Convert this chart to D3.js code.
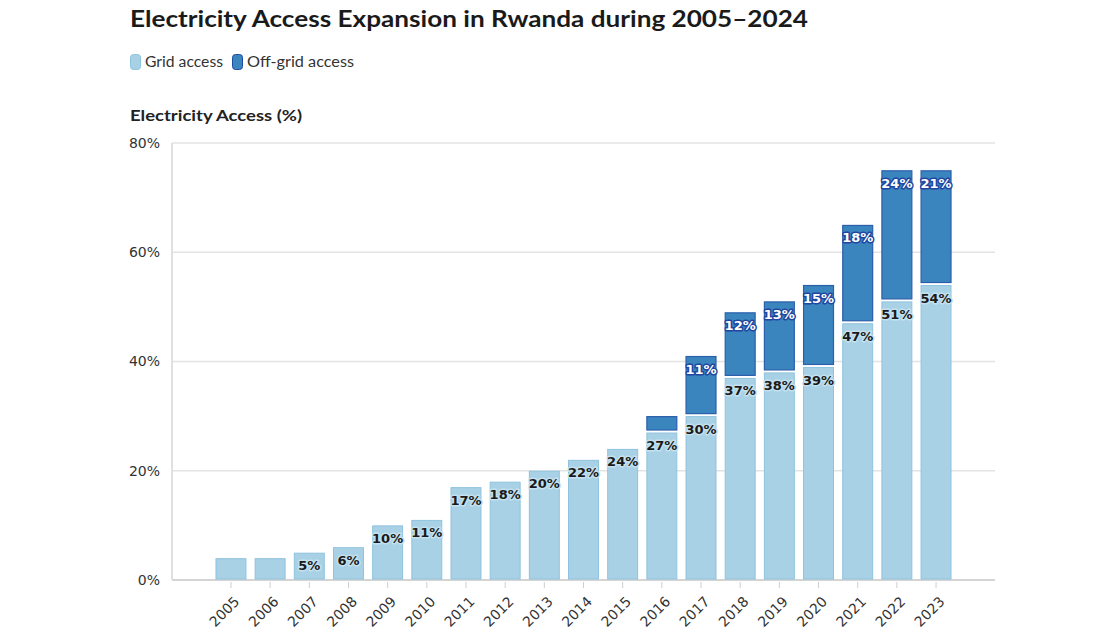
<!DOCTYPE html>
<html><head><meta charset="utf-8">
<script src="https://cdn.jsdelivr.net/npm/d3@7"></script>
<style>body{margin:0;background:#fff;} svg{display:block;}</style>
</head><body>
<svg id="c" width="1120" height="630"></svg>
<script>
const years = ["2005","2006","2007","2008","2009","2010","2011","2012","2013","2014","2015","2016","2017","2018","2019","2020","2021","2022","2023"];
const gridAccess = [4,4,5,6,10,11,17,18,20,22,24,27,30,37,38,39,47,51,54];
const offGridAccess = [0,0,0,0,0,0,0,0,0,0,0,3,11,12,13,15,18,24,21];
const yTicks = [0,20,40,60,80];
const seriesNames = ["Grid access","Off-grid access"];

const svg = d3.select("#c");
const L=172, R=995, T=143, B=580;
const x = d3.scaleBand().domain(years).range([L,R]).paddingInner(0.21).paddingOuter(1.11);
const y = d3.scaleLinear().domain([0,80]).range([B,T]);

const lightFill="#a9d1e6", lightStroke="#8ec3de", darkFill="#3a85be", darkStroke="#2b5fac";

// title
svg.append("text").attr("x",130).attr("y",27).attr("font-family","Lato").attr("font-weight",700)
  .attr("font-size",23).attr("fill","#1a1a1a").attr("textLength",678).attr("lengthAdjust","spacingAndGlyphs")
  .text("Electricity Access Expansion in Rwanda during 2005–2024");

// legend
const leg = [{n:seriesNames[0],f:lightFill,s:lightStroke,x:130,w:78},{n:seriesNames[1],f:darkFill,s:"#1f4aa0",x:232,w:107}];
leg.forEach(l=>{
  svg.append("rect").attr("x",l.x+0.5).attr("y",54.5).attr("width",10).attr("height",15).attr("rx",3)
    .attr("fill",l.f).attr("stroke",l.s).attr("stroke-width",1);
  svg.append("text").attr("x",l.x+15).attr("y",67).attr("font-family","Lato").attr("font-size",15.5)
    .attr("fill","#333").attr("textLength",l.w).attr("lengthAdjust","spacingAndGlyphs").text(l.n);
});

// axis title
svg.append("text").attr("x",130).attr("y",121).attr("font-family","Lato").attr("font-weight",700)
  .attr("font-size",16).attr("fill","#222").attr("textLength",172).attr("lengthAdjust","spacingAndGlyphs")
  .text("Electricity Access (%)");

// gridlines
svg.append("g").selectAll("line").data(yTicks).join("line")
  .attr("x1",L).attr("x2",R).attr("y1",d=>y(d)).attr("y2",d=>y(d))
  .attr("stroke",d=>d===0?"#d4d4d4":"#e3e3e3").attr("stroke-width",d=>d===0?2:1.5);
svg.append("line").attr("x1",L).attr("x2",L).attr("y1",T).attr("y2",B).attr("stroke","#e0e0e0").attr("stroke-width",2);

// y tick labels
svg.append("g").selectAll("text").data(yTicks).join("text")
  .attr("x",160).attr("y",d=>y(d)).attr("dy","0.35em").attr("text-anchor","end")
  .attr("font-family","DejaVu Sans").attr("font-size",14).attr("fill","#333").text(d=>d+"%");

// x ticks
const xa = svg.append("g");
xa.selectAll("line").data(years).join("line")
  .attr("x1",d=>x(d)+x.bandwidth()/2).attr("x2",d=>x(d)+x.bandwidth()/2)
  .attr("y1",582).attr("y2",588).attr("stroke","#cfcfcf").attr("stroke-width",1);
xa.selectAll("text").data(years).join("text")
  .attr("transform",d=>`translate(${x(d)+x.bandwidth()/2+6},${599}) rotate(-45)`)
  .attr("text-anchor","end").attr("dy","0.35em")
  .attr("font-family","DejaVu Sans").attr("font-size",14).attr("fill","#333").text(d=>d);

const data = years.map((yr,i)=>({yr,g:gridAccess[i],o:offGridAccess[i]}));
const bw = x.bandwidth();

// grid bars
svg.append("g").selectAll("rect").data(data).join("rect")
  .attr("x",d=>x(d.yr)+0.5).attr("width",bw-1)
  .attr("y",d=>y(d.g)+0.5).attr("height",d=>y(0)-y(d.g)-1.5)
  .attr("fill",lightFill).attr("stroke",lightStroke).attr("stroke-width",1);
// off-grid bars
svg.append("g").selectAll("rect").data(data.filter(d=>d.o>0)).join("rect")
  .attr("x",d=>x(d.yr)+0.5).attr("width",bw-1)
  .attr("y",d=>y(d.g+d.o)+0.5).attr("height",d=>y(d.g)-y(d.g+d.o)-3)
  .attr("fill",darkFill).attr("stroke",darkStroke).attr("stroke-width",1.2);

// labels
svg.append("g").selectAll("text").data(data.filter(d=>d.g>=5)).join("text")
  .attr("x",d=>x(d.yr)+bw/2).attr("y",d=>y(d.g)+13).attr("dy","0.35em").attr("text-anchor","middle")
  .attr("font-family","DejaVu Sans").attr("font-weight",700).attr("font-size",13)
  .attr("fill","#1a1a1a").attr("stroke","#c4e1ef").attr("stroke-width",3).attr("paint-order","stroke")
  .attr("stroke-linejoin","round").text(d=>d.g+"%");
svg.append("g").selectAll("text").data(data.filter(d=>d.o>=5)).join("text")
  .attr("x",d=>x(d.yr)+bw/2).attr("y",d=>y(d.g+d.o)+13).attr("dy","0.35em").attr("text-anchor","middle")
  .attr("font-family","DejaVu Sans").attr("font-weight",700).attr("font-size",13)
  .attr("fill","#fff").attr("stroke","#1f46a0").attr("stroke-width",3).attr("paint-order","stroke")
  .attr("stroke-linejoin","round").text(d=>d.o+"%");
</script>
</body></html>
